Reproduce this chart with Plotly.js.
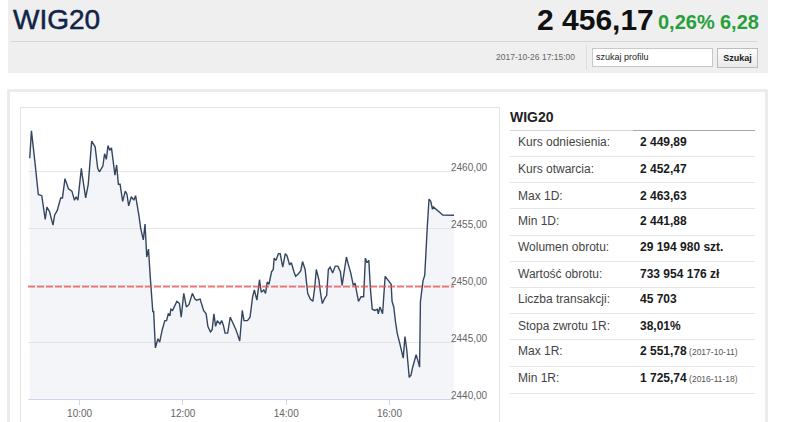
<!DOCTYPE html>
<html>
<head>
<meta charset="utf-8">
<script src="https://cdn.plot.ly/plotly-3.0.1.min.js"></script>
<style>
  html, body { margin: 0; padding: 0; }
  body { width: 786px; height: 422px; overflow: hidden; background: #fff; position: relative;
         font-family: "Liberation Sans", Arial, sans-serif; }
  .a { position: absolute; white-space: nowrap; line-height: 1; }
  #chart { position: absolute; left: 0; top: 0; width: 786px; height: 422px; z-index: 5; }
</style>
</head>
<body>
<script>
// ---------------- DATA ----------------
const indexName = 'WIG20';
const lastValue = '2 456,17';
const changePct = '0,26%';
const changeAbs = '6,28';
const timestamp = '2017-10-26 17:15:00';
const searchPlaceholder = 'szukaj profilu';
const searchButton = 'Szukaj';
const tradeDate = '2017-10-26';
const referenceLevel = 2449.89;

const times = ['09:02','09:04','09:08','09:12','09:16','09:20','09:22','09:25','09:29','09:31',
  '09:34','09:38','09:40','09:43','09:47','09:51','09:54','09:56','09:58','10:02',
  '10:03','10:07','10:10','10:14','10:18','10:21','10:23','10:27','10:29','10:31',
  '10:33','10:35','10:37','10:40','10:41','10:43','10:45','10:47','10:50','10:53',
  '10:55','10:57','11:00','11:03','11:05','11:09','11:11','11:14','11:16','11:18',
  '11:20','11:22','11:25','11:26','11:28','11:31','11:33','11:36','11:39','11:41',
  '11:43','11:45','11:46','11:48','11:50','11:53','11:56','11:58','12:01','12:04',
  '12:07','12:11','12:14','12:16','12:20','12:24','12:27','12:29','12:32','12:34',
  '12:36','12:38','12:40','12:43','12:45','12:47','12:49','12:52','12:55','12:57',
  '13:01','13:03','13:06','13:09','13:11','13:15','13:18','13:21','13:23','13:26',
  '13:29','13:31','13:34','13:36','13:38','13:40','13:43','13:45','13:46','13:48',
  '13:51','13:53','13:56','13:59','14:01','14:04','14:06','14:09','14:11','14:14',
  '14:17','14:19','14:22','14:25','14:28','14:31','14:33','14:35','14:38','14:40',
  '14:42','14:45','14:47','14:49','14:51','14:54','14:57','15:00','15:03','15:05',
  '15:08','15:10','15:12','15:15','15:18','15:20','15:24','15:27','15:30','15:32',
  '15:34','15:36','15:38','15:40','15:43','15:46','15:47','15:49','15:52','15:55',
  '15:59','16:02','16:03','16:05','16:07','16:09','16:12','16:16','16:18','16:20',
  '16:23','16:25','16:27','16:31','16:33','16:35','16:36','16:39','16:41','16:43',
  '16:44','16:46','16:48','16:50','16:51','17:02','17:15'];

const values = [2461.2,2463.6,2460.9,2458.0,2457.9,2455.8,2456.9,2456.5,2455.3,2456.2,
  2456.6,2457.7,2457.7,2459.4,2458.5,2458.3,2457.5,2457.8,2457.5,2460.3,
  2459.7,2457.7,2458.9,2462.7,2462.2,2460.3,2460.0,2460.5,2461.6,2461.1,
  2462.3,2461.9,2462.1,2460.0,2459.7,2460.6,2458.9,2458.9,2457.4,2458.3,
  2458.0,2457.0,2457.8,2457.5,2457.9,2456.1,2455.0,2454.0,2455.4,2452.5,
  2453.2,2450.8,2447.7,2447.7,2444.5,2445.3,2445.0,2446.1,2446.9,2446.9,
  2447.5,2447.4,2447.9,2447.8,2448.1,2448.6,2448.4,2447.2,2449.3,2448.1,
  2448.3,2449.3,2448.8,2448.7,2448.8,2447.8,2447.5,2446.4,2445.9,2446.1,
  2447.5,2446.4,2446.9,2446.6,2446.9,2446.5,2445.8,2445.8,2447.2,2446.9,
  2446.2,2445.8,2445.1,2447.8,2446.9,2446.9,2447.2,2449.0,2449.6,2448.7,
  2450.5,2449.4,2449.6,2449.3,2450.3,2450.1,2451.2,2451.4,2452.4,2452.2,
  2452.8,2452.8,2451.6,2452.8,2452.6,2451.8,2452.0,2451.2,2450.8,2451.0,
  2451.3,2452.1,2451.4,2449.3,2448.8,2448.6,2449.7,2451.4,2450.5,2449.3,
  2448.4,2448.9,2449.1,2451.4,2451.6,2451.1,2451.7,2451.7,2451.2,2450.0,
  2451.7,2452.5,2451.9,2451.1,2450.0,2450.2,2448.6,2449.0,2449.0,2452.4,
  2452.0,2452.2,2449.6,2447.9,2447.8,2447.9,2447.5,2448.1,2447.5,2450.8,
  2450.4,2450.1,2448.6,2448.1,2446.8,2445.8,2444.9,2443.6,2445.5,2444.4,
  2441.9,2442.1,2442.8,2443.9,2443.4,2442.8,2448.6,2450.4,2450.9,2454.9,
  2455.2,2457.6,2457.4,2456.7,2456.9,2456.2,2456.17];

const yTickVals = [2440, 2445, 2450, 2455, 2460, 2465];
const yTickText = ['2440,00', '2445,00', '2450,00', '2455,00', '2460,00', ''];

const statLabels = ['Kurs odniesienia:', 'Kurs otwarcia:', 'Max 1D:', 'Min 1D:', 'Wolumen obrotu:',
  'Wartość obrotu:', 'Liczba transakcji:', 'Stopa zwrotu 1R:', 'Max 1R:', 'Min 1R:'];
const statValues = ['2 449,89', '2 452,47', '2 463,63', '2 441,88', '29 194 980 szt.',
  '733 954 176 zł', '45 703', '38,01%', '2 551,78', '1 725,74'];
const statNotes = ['', '', '', '', '', '', '', '', '(2017-10-11)', '(2016-11-18)'];

// ---------------- PAGE ----------------
function el(tag, css, text) {
  const d = document.createElement(tag);
  d.className = 'a';
  d.style.cssText = css;
  if (text !== undefined) d.textContent = text;
  document.body.appendChild(d);
  return d;
}

// header
el('div', 'left:8px;top:0;width:760px;height:73px;background:#efefef;');
el('div', 'left:13px;top:6px;font-size:28px;color:#102448;-webkit-text-stroke:0.5px #102448;', indexName);
el('div', 'left:537px;top:5px;font-size:30px;font-weight:bold;color:#111;', lastValue);
el('div', 'left:658px;top:12px;font-size:20px;font-weight:bold;color:#27a03c;', changePct);
el('div', 'left:720px;top:12px;font-size:20px;font-weight:bold;color:#27a03c;', changeAbs);
el('div', 'left:11px;top:41px;width:746px;height:1px;background:#d3d3d3;');
el('div', 'right:211px;top:53px;font-size:8.5px;color:#666;', timestamp);
el('div', 'left:586px;top:45px;width:1px;height:25px;background:#dcdcdc;');
el('div', 'left:592px;top:48px;width:119px;height:17px;border:1px solid #c8c8c8;background:#fff;');
el('div', 'left:596px;top:53px;font-size:9px;color:#222;', searchPlaceholder);
el('div', 'left:717px;top:48px;width:39px;height:18px;border:1px solid #bdbdbd;background:linear-gradient(#fdfdfd,#e9e9e9);');
el('div', 'left:717px;top:54px;width:41px;text-align:center;font-size:9px;font-weight:bold;color:#222;', searchButton);

// panels
el('div', 'left:7px;top:89px;width:761px;height:345px;box-sizing:border-box;border:3px solid #ececec;');
el('div', 'left:20px;top:107px;width:480px;height:330px;box-sizing:border-box;border:1px solid #e4e4e4;');

// stats table
el('div', 'left:510px;top:110px;font-size:14px;font-weight:bold;color:#222;', indexName);
el('div', 'left:510px;top:130px;width:123px;height:1px;background:#d6d6d6;');
el('div', 'left:633px;top:130px;width:122px;height:1px;background:#a9a9a9;');
const rowCenters = [142.3, 169, 195.7, 221, 246.7, 274, 299.3, 326, 351, 378.3];
const rowSeps = [156, 182, 208, 235, 261, 287, 313, 339, 366, 393];
statLabels.forEach((lab, i) => {
  const top = rowCenters[i] - 5.9;
  el('div', 'left:518px;top:' + top + 'px;font-size:12px;color:#444;', lab);
  const v = el('div', 'left:640px;top:' + top + 'px;font-size:12px;font-weight:bold;color:#1a1a1a;', statValues[i]);
  if (statNotes[i]) {
    const s = document.createElement('span');
    s.style.cssText = 'font-size:8.5px;font-weight:normal;color:#555;';
    s.textContent = ' ' + statNotes[i];
    v.appendChild(s);
  }
  el('div', 'left:510px;top:' + rowSeps[i] + 'px;width:245px;height:1px;background:#e6e6e6;');
});

// chart
const chartDiv = document.createElement('div');
chartDiv.id = 'chart';
document.body.appendChild(chartDiv);

const xs = times.map(t => tradeDate + ' ' + t);

Plotly.newPlot(chartDiv, [{
  x: xs,
  y: values,
  type: 'scatter',
  mode: 'lines',
  line: { color: '#34465f', width: 1.4 },
  fill: 'tozeroy',
  fillcolor: 'rgba(214,222,234,0.3)',
  hoverinfo: 'skip'
}], {
  width: 786,
  height: 422,
  margin: { l: 28, r: 332, t: 115, b: 23, pad: 0 },
  paper_bgcolor: 'rgba(0,0,0,0)',
  plot_bgcolor: 'rgba(0,0,0,0)',
  showlegend: false,
  separators: ', ',
  font: { family: 'Liberation Sans, Arial, sans-serif', size: 10, color: '#666' },
  xaxis: {
    type: 'date',
    range: [tradeDate + ' 09:00', tradeDate + ' 17:15'],
    tick0: tradeDate + ' 10:00',
    dtick: 7200000,
    tickformat: '%H:%M',
    showgrid: false,
    zeroline: false,
    showline: true,
    linecolor: '#ccd6eb',
    linewidth: 1,
    ticks: 'outside',
    ticklen: 5,
    tickcolor: '#ccd6eb',
    tickfont: { size: 10, color: '#666' }
  },
  yaxis: {
    range: [2440, 2465],
    side: 'right',
    tickmode: 'array',
    tickvals: yTickVals,
    ticktext: yTickText,
    showgrid: true,
    gridcolor: '#e6e6e6',
    gridwidth: 1,
    zeroline: false,
    showline: false,
    ticks: '',
    ticklabelstandoff: -4,
    ticklabelshift: -4,
    tickfont: { size: 10, color: '#666' }
  },
  shapes: [{
    type: 'line', xref: 'paper', x0: 0, x1: 1, yref: 'y',
    y0: referenceLevel, y1: referenceLevel,
    line: { color: 'rgba(238,76,76,0.78)', width: 1.6, dash: '7px,2px' }
  }]
}, { staticPlot: true, displayModeBar: false });
</script>
</body>
</html>
